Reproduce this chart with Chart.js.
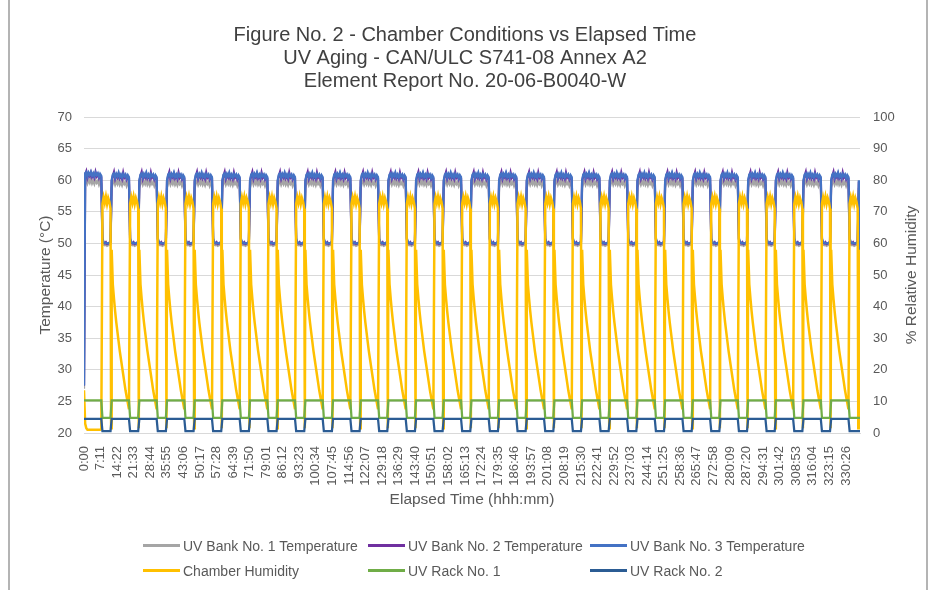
<!DOCTYPE html>
<html>
<head>
<meta charset="utf-8">
<title>Chamber Conditions vs Elapsed Time</title>
<script src="https://cdn.jsdelivr.net/npm/chart.js@4.4.1/dist/chart.umd.min.js"></script>
<style>
  html, body { margin: 0; padding: 0; background: #fff; }
  #wrap { position: relative; width: 930px; height: 590px; overflow: hidden;
          font-family: "Liberation Sans", Arial, sans-serif; }
  #frame { position: absolute; left: 8px; top: -2px; width: 916px; height: 594px;
           border-left: 2px solid #b4b4b4; border-right: 2px solid #b4b4b4; pointer-events: none; }
  #legend { position: absolute; left: 143px; top: 536px; display: grid;
            grid-template-columns: 225px 222px auto; row-gap: 6px; font-size: 14px; color: #595959; }
  .lg-item { display: flex; align-items: center; height: 19px; white-space: nowrap; }
  .lg-swatch { display: inline-block; width: 37px; height: 3px; margin-right: 3px; }
</style>
</head>
<body>
<div id="wrap">
  <canvas id="chart" width="930" height="590"></canvas>
  <div id="legend"></div>
  <div id="frame"></div>
</div>
<script>
// Figure No. 2 — chamber conditions over a 336 h UV aging run (28 cycles of 8 h UV + 4 h condensation).

const titleLines = [
  'Figure No. 2 - Chamber Conditions vs Elapsed Time',
  'UV Aging - CAN/ULC S741-08 Annex A2',
  'Element Report No. 20-06-B0040-W',
];
const X_TITLE = 'Elapsed Time (hhh:mm)';
const Y_TITLE = 'Temperature (°C)';
const RH_TITLE = '% Relative Humidity';

const seriesNames = [
  'UV Bank No. 1 Temperature', 'UV Bank No. 2 Temperature', 'UV Bank No. 3 Temperature',
  'Chamber Humidity', 'UV Rack No. 1', 'UV Rack No. 2',
];
const seriesColors = ['#a5a5a5', '#7030a0', '#4472c4', '#ffc000', '#70ad47', '#2b5c94'];

// category labels Excel printed every 431 minutes
const xTickLabels = [
  '0:00', '7:11', '14:22', '21:33', '28:44', '35:55', '43:06', '50:17', '57:28', '64:39',
  '71:50', '79:01', '86:12', '93:23', '100:34', '107:45', '114:56', '122:07', '129:18', '136:29',
  '143:40', '150:51', '158:02', '165:13', '172:24', '179:35', '186:46', '193:57', '201:08', '208:19',
  '215:30', '222:41', '229:52', '237:03', '244:14', '251:25', '258:36', '265:47', '272:58', '280:09',
  '287:20', '294:31', '301:42', '308:53', '316:04', '323:15', '330:26',
];
const TICK_STEP_H = 431 / 60;
const X_MAX_H = 336.5;

const CYCLE_COUNT = 28;
const CYCLE_HOURS = 12;

// one cycle, hour 0 = lamps on, hour 8 = condensation starts
const cycleHours = [0, 0.5, 1, 1.5, 2, 2.5, 3, 3.5, 4, 4.5, 5, 5.5, 6, 6.5, 7, 7.5,
                    8, 8.5, 9, 9.5, 10, 10.5, 11, 11.5];
const bank1Cycle = [58.8, 59.6, 59.9, 59.3, 59.8, 59.4, 60.0, 59.3, 59.7, 59.2, 59.8, 59.4, 59.7, 59.1, 59.6, 59.3,
                    50.4, 49.8, 49.7, 49.8, 49.6, 49.7, 49.8, 49.9];
const bank2Cycle = [59.8, 60.7, 61.3, 60.2, 60.8, 60.4, 61.0, 60.3, 60.7, 60.2, 61.2, 60.4, 60.7, 60.1, 60.6, 60.3,
                    50.6, 50.1, 50.0, 50.2, 49.9, 50.0, 50.1, 50.2];
const bank3Cycle = [60.0, 60.9, 61.1, 60.4, 61.0, 60.6, 61.2, 60.5, 60.9, 60.4, 61.0, 60.6, 60.9, 60.3, 60.8, 60.5,
                    50.8, 50.2, 50.1, 50.1, 50.0, 50.0, 50.1, 50.3];
const rack1Cycle = [10.3, 10.3, 10.3, 10.3, 10.3, 10.3, 10.3, 10.3, 10.3, 10.3, 10.3, 10.3, 10.3, 10.3, 10.3, 10.3,
                    4.8, 4.8, 4.8, 4.8, 4.8, 4.8, 4.8, 4.8];
const rack2Cycle = [4.5, 4.5, 4.5, 4.5, 4.5, 4.5, 4.5, 4.5, 4.5, 4.5, 4.5, 4.5, 4.5, 4.5, 4.5, 4.5,
                    0.6, 0.6, 0.6, 0.6, 0.6, 0.6, 0.6, 0.6];

// humidity is logged with one extra dip sample at the end of condensation
const humidityHours = [0, 0.5, 1, 1.5, 2, 2.5, 3, 3.5, 4, 4.5, 5, 5.5, 6, 6.5, 7, 7.5,
                       8, 8.5, 9, 9.5, 10, 10.5, 11, 11.5, 11.75];
const humidityCycle = [58, 47, 42.5, 38.5, 35, 32, 29, 26, 23.5, 21, 18.5, 16, 13.5, 11.5, 9.5, 7.5,
                       72.5, 74.6, 72.8, 74.8, 72.5, 74.4, 73.2, 71, 1.5];

// first cycle starts from ambient
const bank1First = [27.0, 59.8, 60.1, 59.5, 60.0, 59.6, 60.2, 59.5, 59.9, 59.4, 60.0, 59.6, 59.9, 59.3, 59.8, 59.5,
                    50.4, 49.8, 49.7, 49.8, 49.6, 49.7, 49.8, 49.9];
const bank2First = [27.5, 60.9, 61.4, 60.4, 61.0, 60.6, 61.2, 60.5, 60.9, 60.4, 61.3, 60.6, 60.9, 60.3, 60.8, 60.5,
                    50.6, 50.1, 50.0, 50.2, 49.9, 50.0, 50.1, 50.2];
const bank3First = [27.5, 61.1, 61.3, 60.6, 61.2, 60.8, 61.3, 60.7, 61.1, 60.6, 61.2, 60.8, 61.1, 60.5, 61.0, 60.7,
                    50.8, 50.2, 50.1, 50.1, 50.0, 50.0, 50.1, 50.3];
const humidityFirst = [13.5, 3, 1.5, 1, 1, 1, 1, 1, 1, 1, 1, 1, 1, 1, 1, 1.2,
                       72.5, 74.6, 72.8, 74.8, 72.5, 74.4, 73.2, 71, 1.5];

// run end: lamps come back on, then the log stops
const tailHours = [336, 336.5];
const bank1Tail = [58.8, 22.0];
const bank2Tail = [59.8, 22.0];
const bank3Tail = [60.0, 21.5];
const humidityTail = [58, 17];
const rack1Tail = [4.8, 4.8];
const rack2Tail = [0.6, 0.6];

const FONT = '"Liberation Sans", Arial, sans-serif';
const INK = '#595959';
const GRID = '#d9d9d9';

function buildSeries(hours, values, first, tail) {
  const pts = [];
  for (let c = 0; c < CYCLE_COUNT; c++) {
    const vals = c === 0 ? first : values;
    hours.forEach((h, i) => pts.push({ x: c * CYCLE_HOURS + h, y: vals[i] }));
  }
  tailHours.forEach((h, i) => pts.push({ x: h, y: tail[i] }));
  return pts;
}

const seriesData = [
  { data: buildSeries(cycleHours, bank1Cycle, bank1First, bank1Tail), axis: 'y' },
  { data: buildSeries(cycleHours, bank2Cycle, bank2First, bank2Tail), axis: 'y' },
  { data: buildSeries(cycleHours, bank3Cycle, bank3First, bank3Tail), axis: 'y' },
  { data: buildSeries(humidityHours, humidityCycle, humidityFirst, humidityTail), axis: 'yRh' },
  { data: buildSeries(cycleHours, rack1Cycle, rack1Cycle, rack1Tail), axis: 'yRh' },
  { data: buildSeries(cycleHours, rack2Cycle, rack2Cycle, rack2Tail), axis: 'yRh' },
];

// right-hand title reads bottom-to-top like Excel's secondary axis
const rightTitle = {
  id: 'rightTitle',
  afterDraw(chart) {
    const { ctx, chartArea } = chart;
    const scale = chart.scales.yRh;
    ctx.save();
    ctx.translate(scale.right - 18, (chartArea.top + chartArea.bottom) / 2);
    ctx.rotate(-Math.PI / 2);
    ctx.font = `15.5px ${FONT}`;
    ctx.fillStyle = INK;
    ctx.textAlign = 'center';
    ctx.textBaseline = 'middle';
    ctx.fillText(RH_TITLE, 0, 0);
    ctx.restore();
  },
};

const chart = new Chart(document.getElementById('chart'), {
  type: 'line',
  data: {
    datasets: seriesData.map((s, i) => ({
      label: seriesNames[i],
      data: s.data,
      yAxisID: s.axis,
      borderColor: seriesColors[i],
      backgroundColor: seriesColors[i],
      borderWidth: i === 3 ? 2.5 : 2.25,
      pointRadius: 0,
      tension: 0,
      fill: false,
      order: seriesNames.length - i, // later series on top, as in Excel
    })),
  },
  options: {
    responsive: false,
    animation: false,
    devicePixelRatio: 1,
    parsing: false,
    normalized: true,
    layout: { padding: { left: 0, right: 0, top: 0, bottom: 77 } },
    plugins: {
      legend: { display: false },
      tooltip: { enabled: false },
      title: {
        display: true, text: titleLines, color: '#404040',
        font: { family: FONT, size: 20, weight: 'normal', lineHeight: 1.15 },
        padding: { top: 24, bottom: 24 },
      },
    },
    scales: {
      x: {
        type: 'linear', min: 0, max: X_MAX_H,
        afterBuildTicks: (scale) => {
          scale.ticks = xTickLabels.map((_, i) => ({ value: i * TICK_STEP_H }));
        },
        afterFit: (scale) => { scale.height = 80; },
        ticks: {
          autoSkip: false, minRotation: 90, maxRotation: 90, padding: 5,
          color: INK, font: { family: FONT, size: 13 },
          callback: (v, i) => xTickLabels[i],
        },
        grid: { display: false },
        border: { display: true, color: GRID },
        title: {
          display: true, text: X_TITLE, color: INK,
          font: { family: FONT, size: 15.5 }, padding: { top: 2, bottom: 4 },
        },
      },
      y: {
        position: 'left', min: 20, max: 70,
        afterFit: (scale) => { scale.width = 84; },
        ticks: { stepSize: 5, padding: 12, color: INK, font: { family: FONT, size: 13 } },
        grid: { color: GRID, lineWidth: 1, drawTicks: false },
        border: { display: false },
        title: {
          display: true, text: Y_TITLE, color: INK,
          font: { family: FONT, size: 15.5 }, padding: { top: 36, bottom: 0 },
        },
      },
      yRh: {
        position: 'right', min: 0, max: 100,
        afterFit: (scale) => { scale.width = 70; },
        ticks: { stepSize: 10, padding: 13, color: INK, font: { family: FONT, size: 13 } },
        grid: { display: false, drawTicks: false },
        border: { display: false },
      },
    },
  },
  plugins: [rightTitle],
});

// legend laid out in Excel's fixed columns
const legendEl = document.getElementById('legend');
legendEl.innerHTML = chart.data.datasets.map((ds) => `
  <div class="lg-item"><span class="lg-swatch" style="background:${ds.borderColor}"></span>${ds.label}</div>
`).join('');
</script>
</body>
</html>
